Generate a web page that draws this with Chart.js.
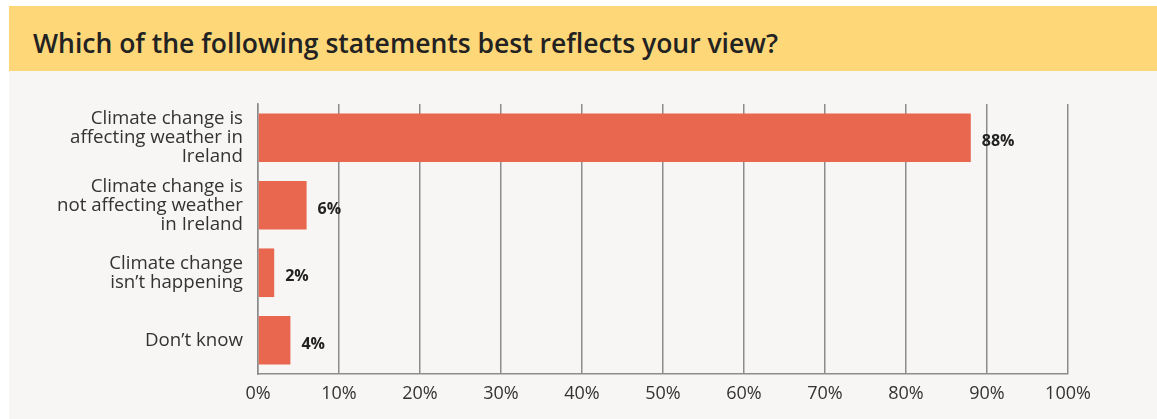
<!DOCTYPE html>
<html>
<head>
<meta charset="utf-8">
<script src="https://cdn.jsdelivr.net/npm/chart.js@4/dist/chart.umd.min.js"></script>
<style>
  html, body { margin: 0; padding: 0; background: #ffffff; width: 1157px; height: 419px; overflow: hidden; }
  #header { position: absolute; left: 9px; top: 6px; width: 1148px; height: 65px; background: #fdd778; }
  #title { position: absolute; left: 24px; top: 0; height: 65px; line-height: 74px; margin: 0;
           font-family: "Open Sans", sans-serif; font-weight: 600; font-size: 26.5px; color: #222222; white-space: nowrap; }
  #panel { position: absolute; left: 9px; top: 71px; width: 1148px; height: 348px; background: #f7f6f4; }
  canvas { display: block; }
</style>
</head>
<body>
<div id="header"><h1 id="title">Which of the following statements best reflects your view?</h1></div>
<div id="panel"><canvas id="c" width="1148" height="348"></canvas></div>
<script>
const categories = [
  ["Climate change is", "affecting weather in", "Ireland"],
  ["Climate change is", "not affecting weather", "in Ireland"],
  ["Climate change", "isn\u2019t happening"],
  ["Don\u2019t know"]
];
const values = [88, 6, 2, 4];
const xTicks = [0, 10, 20, 30, 40, 50, 60, 70, 80, 90, 100];

const valueLabels = {
  id: 'valueLabels',
  afterDatasetsDraw(chart) {
    const ctx = chart.ctx;
    const meta = chart.getDatasetMeta(0);
    ctx.save();
    ctx.font = '700 16px "Open Sans", sans-serif';
    ctx.fillStyle = '#222222';
    ctx.textAlign = 'left';
    ctx.textBaseline = 'middle';
    meta.data.forEach((bar, i) => {
      ctx.fillText(values[i] + '%', bar.x + 11, bar.y + 4);
    });
    ctx.restore();
  }
};

new Chart(document.getElementById('c'), {
  type: 'bar',
  data: {
    labels: categories,
    datasets: [{
      data: values,
      backgroundColor: '#e8674e',
      borderWidth: 0,
      categoryPercentage: 1,
      barPercentage: 0.72
    }]
  },
  options: {
    indexAxis: 'y',
    responsive: false,
    animation: false,
    layout: { padding: { top: 33, right: 89, left: 0, bottom: 0 } },
    plugins: { legend: { display: false }, tooltip: { enabled: false } },
    scales: {
      x: {
        min: 0, max: 100,
        afterBuildTicks(scale) { scale.ticks = xTicks.map(v => ({ value: v })); },
        afterFit(scale) { scale.height = 45; },
        grid: { color: '#8c8c8c', lineWidth: 1.5, drawTicks: false },
        border: { display: true, color: '#8c8c8c', width: 1.5 },
        ticks: {
          padding: 9,
          color: '#333333',
          font: { family: '"Open Sans", sans-serif', size: 18 },
          callback: v => v + '%'
        }
      },
      y: {
        afterFit(scale) { scale.width = 249; },
        grid: { display: false, drawTicks: false },
        border: { display: true, color: '#8c8c8c', width: 1.5 },
        ticks: {
          padding: 15,
          color: '#333333',
          font: { family: '"Open Sans", sans-serif', size: 18.7, lineHeight: '19px' }
        }
      }
    }
  },
  plugins: [valueLabels]
});
</script>
</body>
</html>
